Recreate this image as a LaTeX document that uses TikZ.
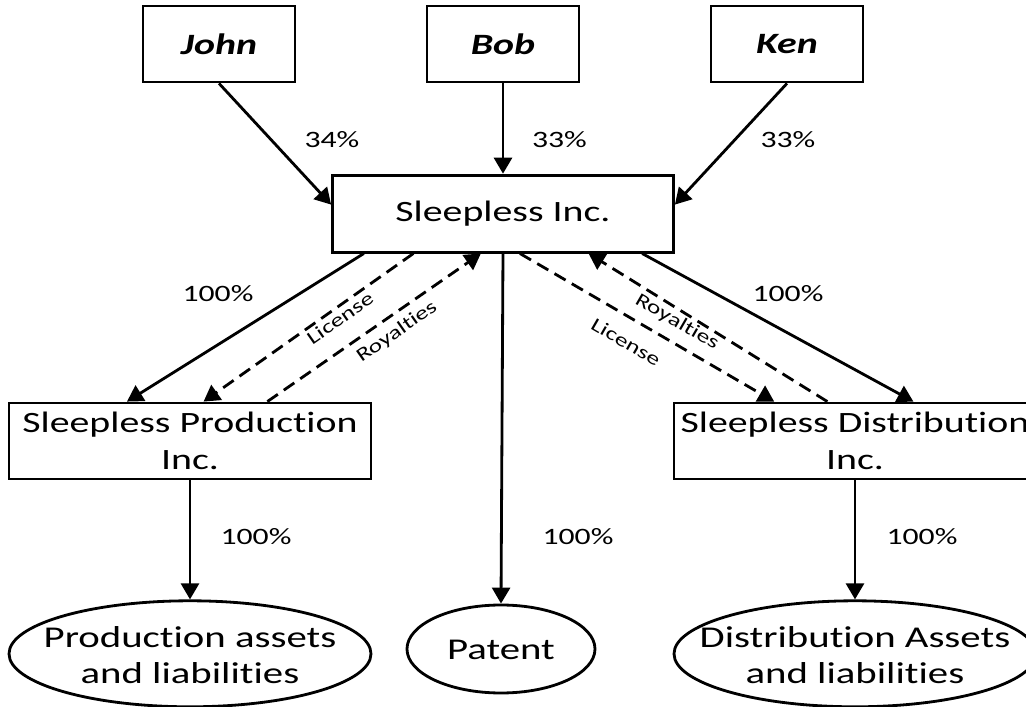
\documentclass[tikz,border=0pt]{standalone}
\usepackage{fontspec}
\setmainfont{Carlito}[FakeStretch=1.35,Ligatures=NoCommon]
\usetikzlibrary{arrows.meta,shapes.geometric,positioning}

\tikzstyle{ownbox} = [rectangle, minimum width=3.8cm, minimum height=1.9cm, text centered, draw=black, fill=white, line width=2pt, inner sep=0pt, font=\fontsize{21}{26}\selectfont\bfseries\itshape]
\tikzstyle{companybox} = [ownbox, minimum width=9.05cm, align=center, font=\fontsize{21}{26.5}\selectfont]
\tikzstyle{assetoval} = [ellipse, minimum width=9.05cm, minimum height=2.65cm, draw=black, line width=2pt, inner sep=0pt]
\tikzstyle{ovaltext} = [align=center, inner sep=0pt, yshift=-0.03cm, font=\fontsize{21.5}{26}\selectfont]
\tikzstyle{pct} = [font=\fontsize{16.7}{20}\selectfont]
\tikzstyle{flowtext} = [inner sep=0pt, font=\fontsize{13.5}{16}\selectfont]
\tikzstyle{owns} = [-{Triangle[length=0.4cm,width=0.45cm]}, line width=2pt]
\tikzstyle{flow} = [owns, dash pattern=on 0.32cm off 0.18cm]

\begin{document}
\begin{tikzpicture}[node distance=7.1cm]
\useasboundingbox (-5.475,1.1) rectangle (20.175,-16.575);
%Owners
\node (john) [ownbox] {John};
\node (bob) [ownbox,right of=john] {Bob};
\node (ken) [ownbox,right of=bob] {Ken};

%Companies
\node (sleepless) [companybox,below of=bob,yshift=2.86cm,minimum width=8.525cm,minimum height=1.925cm] {Sleepless Inc.};
\node (production) [companybox,below of=john,xshift=-0.725cm,yshift=-2.825cm] {Sleepless Production\\Inc.};
\node (distribution) [companybox,below of=ken,xshift=1.7cm,yshift=-2.825cm] {Sleepless Distribution\\Inc.};

%Assets
\node (prodassets) [assetoval,below of=production,yshift=1.78cm,label={[ovaltext]center:Production assets\\and liabilities}] {};
\node (patent) [assetoval,below of=sleepless,xshift=-0.05cm,yshift=-3.785cm,minimum width=4.7cm,minimum height=2.2cm,label={[ovaltext]center:Patent}] {};
\node (distassets) [assetoval,below of=distribution,yshift=1.78cm,label={[ovaltext]center:Distribution Assets\\and liabilities}] {};

%Shares
\node (pjohn) [pct] at (2.825,-2.4) {34\%};
\node (pbob) [pct] at (8.5125,-2.4) {33\%};
\node (pken) [pct] at (14.225,-2.4) {33\%};
\node (pprod) [pct] at (-0.025,-6.2375) {100\%};
\node (pdist) [pct] at (14.225,-6.2375) {100\%};
\node (pprodassets) [pct] at (0.925,-12.325) {100\%};
\node (ppatent) [pct] at (8.975,-12.325) {100\%};
\node (pdistassets) [pct] at (17.575,-12.325) {100\%};

%Flow labels
\node (licprod) [flowtext,rotate=35] at (3.025,-6.85) {License};
\node (royprod) [flowtext,rotate=35] at (4.45,-7.2) {Royalties};
\node (roydist) [flowtext,rotate=-30] at (11.45,-6.95) {Royalties};
\node (licdist) [flowtext,rotate=-30] at (10.175,-7.45) {License};

%Arrows
\draw [owns] (john.south) -- (sleepless.177);
\draw [owns] (bob.south) -- (sleepless.north);
\draw [owns] (ken.south) -- (sleepless.3);
\draw [owns] (sleepless.196) -- (production.148);
\draw [owns] (sleepless.344) -- (distribution.34);
\draw [owns] (sleepless.south) -- (patent.north);
\draw [owns] (production.south) -- (prodassets.north);
\draw [owns] (distribution.south) -- (distassets.north);
\draw [flow] (sleepless.204) -- (production.71);
\draw [flow] (production.27) -- (sleepless.241);
\draw [flow] (sleepless.293) -- (distribution.154);
\draw [flow] (distribution.125) -- (sleepless.335);
\end{tikzpicture}
\end{document}
